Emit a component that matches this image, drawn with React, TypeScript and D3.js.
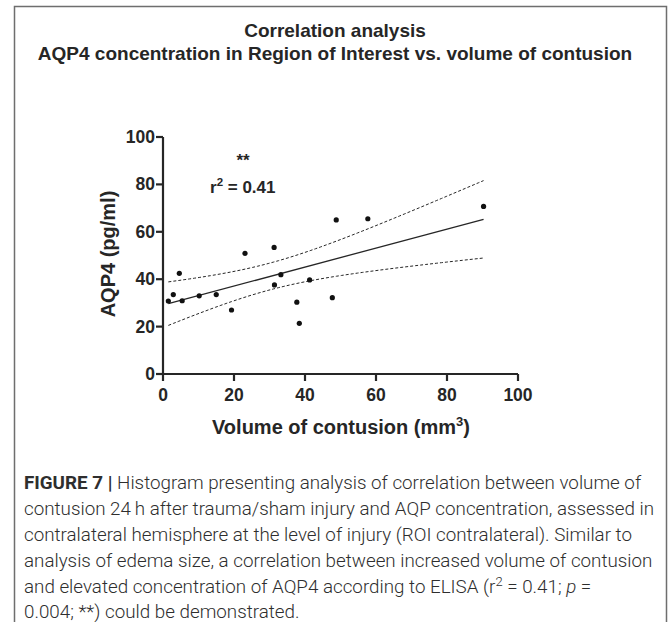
import React from "react";
import * as d3 from "d3";

const volume = [1.5, 2.9, 4.6, 5.4, 10.2, 15.0, 19.3, 23.1, 31.3, 31.4, 33.2, 37.7, 38.4, 41.3, 47.7, 48.8, 57.7, 90.3];
const aqp4 = [30.8, 33.5, 42.5, 30.9, 33.0, 33.5, 27.0, 50.9, 53.4, 37.6, 41.9, 30.3, 21.4, 39.7, 32.2, 65.0, 65.5, 70.7];
const xTicks = [0, 20, 40, 60, 80, 100];
const yTicks = [0, 20, 40, 60, 80, 100];
const titleLines = ["Correlation analysis", "AQP4 concentration in Region of Interest vs. volume of contusion"];
const captionLines = [
  "Histogram presenting analysis of correlation between volume of",
  "contusion 24\u2009h after trauma/sham injury and AQP concentration, assessed in",
  "contralateral hemisphere at the level of injury (ROI contralateral). Similar to",
  "analysis of edema size, a correlation between increased volume of contusion",
  "and elevated concentration of AQP4 according to ELISA (",
  "0.004; **) could be demonstrated.",
];
const tCrit = 2.1199; // t(0.975, df=16)

export default function App() {
  const W = 669, H = 622;
  const x = d3.scaleLinear().domain([0, 100]).range([163, 518]);
  const y = d3.scaleLinear().domain([0, 100]).range([374, 137]);

  const n = volume.length;
  const mx = d3.mean(volume)!;
  const my = d3.mean(aqp4)!;
  const sxx = d3.sum(volume, (v) => (v - mx) ** 2);
  const sxy = d3.sum(volume, (v, i) => (v - mx) * (aqp4[i] - my));
  const b = sxy / sxx;
  const a = my - b * mx;
  const sse = d3.sum(volume, (v, i) => (aqp4[i] - (a + b * v)) ** 2);
  const s = Math.sqrt(sse / (n - 2));
  const [x0, x1] = d3.extent(volume) as [number, number];
  const xs = d3.range(0, 61).map((k) => x0 + ((x1 - x0) * k) / 60);
  const half = (xv: number) => tCrit * s * Math.sqrt(1 / n + (xv - mx) ** 2 / sxx);
  const line = d3.line<[number, number]>().x((d) => x(d[0])).y((d) => y(d[1]));
  const fit = line([[x0, a + b * x0], [x1, a + b * x1]]) as string;
  const upper = line(xs.map((v) => [v, a + b * v + half(v)])) as string;
  const lower = line(xs.map((v) => [v, a + b * v - half(v)])) as string;

  const txt = "#262626";
  const font = "'Liberation Sans', Arial, sans-serif";
  const capFont = "Roboto, 'Liberation Sans', sans-serif";

  return (
    <svg width={W} height={H} style={{ position: "absolute", left: 0, top: 0, background: "#fff" }}>
      <path d={`M14.5,630 V6.5 H666.5 V630`} fill="none" stroke="#6e6e6e" strokeWidth={1.5} />
      <g fontFamily={font} fontWeight="bold" fill={txt} textAnchor="middle">
        <text x={335} y={37} fontSize={19}>{titleLines[0]}</text>
        <text x={335} y={60} fontSize={19}>{titleLines[1]}</text>
      </g>
      {/* axes */}
      <g stroke={txt} strokeWidth={2.2} fill="none">
        <line x1={x(0)} x2={x(0)} y1={y(100)} y2={y(0)} />
        <line x1={x(0)} x2={x(100)} y1={y(0)} y2={y(0)} />
        {yTicks.map((t) => (
          <line key={"yt" + t} x1={x(0) - 7} x2={x(0)} y1={y(t)} y2={y(t)} />
        ))}
        {xTicks.map((t) => (
          <line key={"xt" + t} x1={x(t)} x2={x(t)} y1={y(0)} y2={y(0) + 7} />
        ))}
      </g>
      <g fontFamily={font} fontWeight="bold" fill={txt} fontSize={17.5}>
        {yTicks.map((t) => (
          <text key={"yl" + t} x={x(0) - 8} y={y(t) + 6} textAnchor="end">{t}</text>
        ))}
        {xTicks.map((t) => (
          <text key={"xl" + t} x={x(t)} y={y(0) + 27} textAnchor="middle">{t}</text>
        ))}
      </g>
      <text x={341} y={434} fontFamily={font} fontWeight="bold" fontSize={20} fill={txt} textAnchor="middle">
        Volume of contusion (mm<tspan dy={-8} fontSize={13}>3</tspan><tspan dy={8}>)</tspan>
      </text>
      <text transform={`translate(115,254) rotate(-90)`} fontFamily={font} fontWeight="bold" fontSize={20} fill={txt} textAnchor="middle">
        AQP4 (pg/ml)
      </text>
      {/* fit + CI */}
      <path d={fit} fill="none" stroke={txt} strokeWidth={1.3} />
      <path d={upper} fill="none" stroke={txt} strokeWidth={1} strokeDasharray="3,2" />
      <path d={lower} fill="none" stroke={txt} strokeWidth={1} strokeDasharray="3,2" />
      {volume.map((v, i) => (
        <circle key={i} cx={x(v)} cy={y(aqp4[i])} r={2.6} fill="#111" />
      ))}
      <g fontFamily={font} fontWeight="bold" fill={txt}>
        <text x={243} y={166} fontSize={17} textAnchor="middle">**</text>
        <text x={210} y={193} fontSize={17}>
          r<tspan dy={-7} fontSize={11.5}>2</tspan><tspan dy={7}> = 0.41</tspan>
        </text>
      </g>
      {/* caption */}
      <g fontFamily={capFont} fontWeight={300} fontSize={18.8} fill="#2e2e2e">
        <text x={24} y={489}>
          <tspan fontWeight="bold">FIGURE 7 | </tspan>
          <tspan>{captionLines[0]}</tspan>
        </text>
        <text x={24} y={515}>{captionLines[1]}</text>
        <text x={24} y={541}>{captionLines[2]}</text>
        <text x={24} y={567}>{captionLines[3]}</text>
        <text x={24} y={593}>
          {captionLines[4]}r<tspan dy={-7} fontSize={13}>2</tspan><tspan dy={7}>{" = 0.41; "}</tspan>
          <tspan fontStyle="italic">p</tspan><tspan>{" ="}</tspan>
        </text>
        <text x={24} y={618}>{captionLines[5]}</text>
      </g>
    </svg>
  );
}
